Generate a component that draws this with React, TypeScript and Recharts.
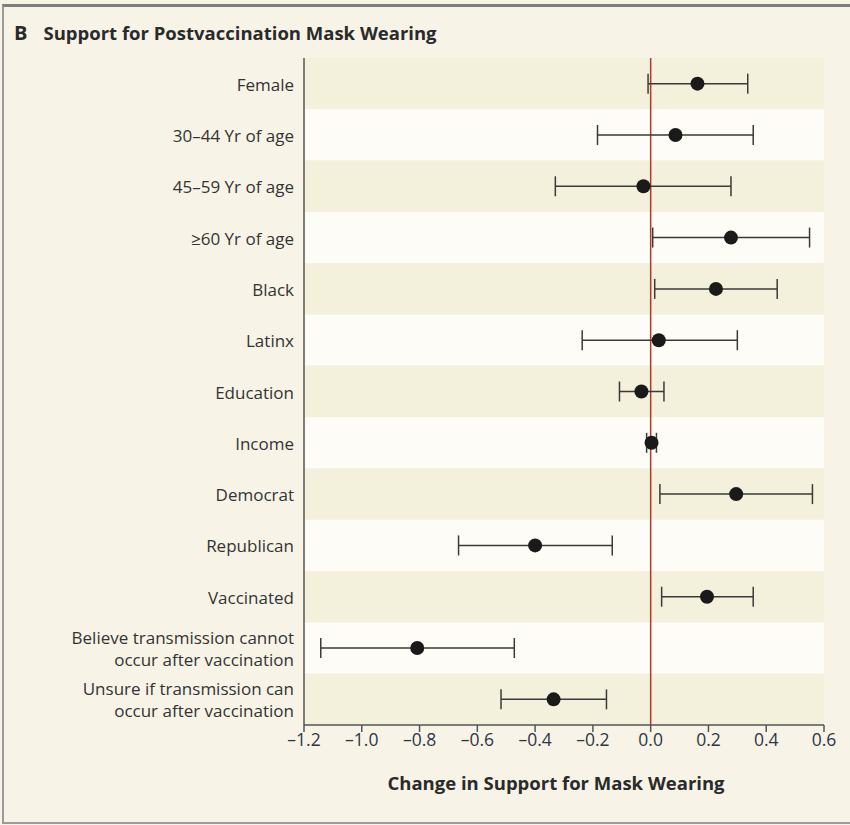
import React from 'react';
import {
  ScatterChart,
  Scatter,
  XAxis,
  YAxis,
  ErrorBar,
  ReferenceArea,
  ReferenceLine,
  Label,
} from 'recharts';

const categories = [
  'Female',
  '30–44 Yr of age',
  '45–59 Yr of age',
  '≥60 Yr of age',
  'Black',
  'Latinx',
  'Education',
  'Income',
  'Democrat',
  'Republican',
  'Vaccinated',
  'Believe transmission cannot\noccur after vaccination',
  'Unsure if transmission can\noccur after vaccination',
];

const estimates = [0.162, 0.086, -0.025, 0.278, 0.226, 0.028, -0.032, 0.003, 0.296, -0.4, 0.195, -0.808, -0.336];
const lower = [-0.009, -0.184, -0.33, 0.007, 0.014, -0.237, -0.108, -0.014, 0.032, -0.665, 0.038, -1.142, -0.518];
const upper = [0.336, 0.355, 0.278, 0.55, 0.438, 0.3, 0.046, 0.02, 0.56, -0.133, 0.355, -0.472, -0.153];

const xTicks = [-1.2, -1.0, -0.8, -0.6, -0.4, -0.2, 0, 0.2, 0.4, 0.6];

const rows = categories.map((name, i) => ({
  name,
  est: estimates[i],
  err: [estimates[i] - lower[i], upper[i] - estimates[i]],
}));

const FONT = '"Open Sans", sans-serif';
const INK = '#333333';

function CategoryTick(props: any) {
  const { x, y, payload } = props;
  const lines = String(payload.value).split('\n');
  const gap = 22;
  const start = y - ((lines.length - 1) * gap) / 2;
  return (
    <text x={x} y={start} textAnchor="end" fill={INK} fontSize={17} fontFamily={FONT} dominantBaseline="central">
      {lines.map((l, i) => (
        <tspan key={i} x={x} y={start + i * gap}>
          {l}
        </tspan>
      ))}
    </text>
  );
}

function ValueTick(props: any) {
  const { x, y, payload } = props;
  const v = payload.value as number;
  const txt = (v < 0 ? '–' : '') + Math.abs(v).toFixed(1);
  return (
    <text x={x} y={y + 12} textAnchor="middle" fill="#2f3645" fontSize={17.5} fontFamily={FONT}>
      {txt}
    </text>
  );
}

function Dot(props: any) {
  const { cx, cy } = props;
  return <circle cx={cx} cy={cy} r={7} fill="#1a1a1a" />;
}

export default function App() {
  return (
    <div
      style={{
        position: 'absolute',
        left: 0,
        top: 0,
        width: 850,
        height: 825,
        background: '#f7f4e7',
        fontFamily: FONT,
      }}
    >
      <div
        style={{
          position: 'absolute',
          left: 2,
          top: 4,
          width: 848,
          height: 815,
          borderTop: '3px solid #7d7d7d',
          borderLeft: '2px solid #9a9a9a',
          borderBottom: '2px solid #9a9a9a',
        }}
      />
      <div
        style={{
          position: 'absolute',
          left: 14,
          top: 19,
          fontSize: 18.5,
          fontWeight: 700,
          color: '#2a2a2a',
          whiteSpace: 'nowrap',
        }}
      >
        <span style={{ fontSize: 20, marginRight: 16 }}>B</span>
        Support for Postvaccination Mask Wearing
      </div>
      <ScatterChart
        width={850}
        height={825}
        margin={{ top: 58, right: 26, bottom: 0, left: 0 }}
        style={{ position: 'absolute', left: 0, top: 0 }}
      >
        {categories.map((c, i) => (
          <ReferenceArea
            key={i}
            y1={c}
            y2={c}
            fill={i % 2 === 0 ? '#f3f0dc' : '#fdfcf6'}
            fillOpacity={1}
            stroke="none"
          />
        ))}
        <XAxis
          type="number"
          dataKey="est"
          domain={[-1.2, 0.6]}
          ticks={xTicks}
          height={100}
          stroke="#555555"
          strokeWidth={1.5}
          tickSize={7}
          tick={<ValueTick />}
        >
          <Label
            value="Change in Support for Mask Wearing"
            position="insideBottom"
            offset={35}
            dx={-8}
            fill="#2a2a2a"
            fontSize={18.5}
            fontWeight={700}
            fontFamily={FONT}
          />
        </XAxis>
        <YAxis
          type="category"
          dataKey="name"
          width={304}
          reversed
          stroke="#555555"
          strokeWidth={1.5}
          tickLine={false}
          tickMargin={4}
          interval={0}
          tick={<CategoryTick />}
        />
        <ReferenceLine x={0} stroke="#b8372c" strokeWidth={1.5} />
        <Scatter data={rows} shape={<Dot />} isAnimationActive={false}>
          <ErrorBar dataKey="err" direction="x" width={10} stroke="#3a3a3a" strokeWidth={1.5} />
        </Scatter>
      </ScatterChart>
    </div>
  );
}
